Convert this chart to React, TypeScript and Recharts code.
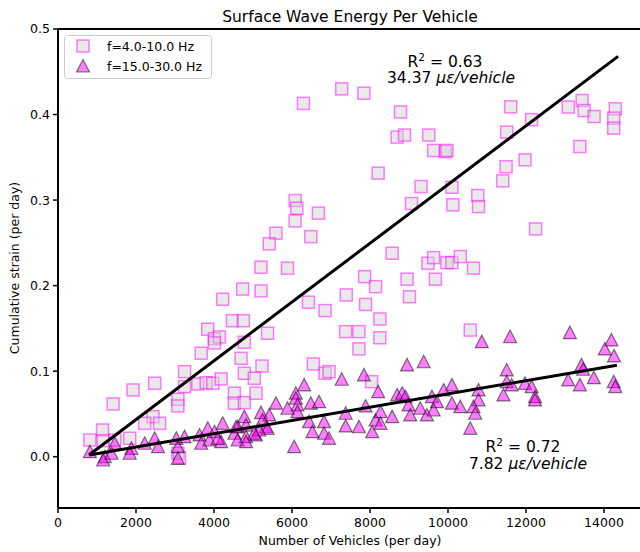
import React from 'react'
import {
  ScatterChart,
  Scatter,
  XAxis,
  YAxis,
  ReferenceLine,
  Customized,
} from 'recharts'

// Points: [vehicles per day, cumulative strain]
const lowBandPoints: [number, number][] = [
  [4734, 0.196], [4223, 0.184], [4471, 0.159], [4753, 0.159], [3840, 0.149], [4011, 0.138],
  [4139, 0.14], [4011, 0.133], [3672, 0.121], [4694, 0.115], [4778, 0.0975], [3245, 0.0994],
  [2478, 0.0858], [1924, 0.078], [3245, 0.0819], [3585, 0.085], [3799, 0.0865], [3968, 0.0858],
  [4183, 0.0909], [3074, 0.0671], [3074, 0.0593], [4522, 0.0742], [4522, 0.0625], [4778, 0.0632],
  [1413, 0.0616], [2435, 0.0468], [2223, 0.039], [2606, 0.039], [1142, 0.0312], [818, 0.0195],
  [1840, 0.0215], [1157, 0.0187], [1456, 0.0195], [3074, 0.004], [3117, -0.0015],
  [6293, 0.413], [7274, 0.43], [7844, 0.425], [8782, 0.403], [8695, 0.3736], [8884, 0.376],
  [9505, 0.376], [8209, 0.3315], [9308, 0.3158], [9063, 0.296], [6081, 0.2994], [6124, 0.2905],
  [6081, 0.2757], [6676, 0.2847], [5588, 0.2613], [5417, 0.2488], [6482, 0.2573], [5205, 0.2215],
  [5884, 0.2204], [8567, 0.2379], [9487, 0.2262], [7862, 0.2105], [8950, 0.2075],
  [5205, 0.1938], [6421, 0.1806], [6847, 0.1708], [7392, 0.1891], [8143, 0.1988], [9011, 0.187],
  [7887, 0.178], [8253, 0.161], [5373, 0.1443], [4778, 0.1338], [7376, 0.1462], [7716, 0.1462],
  [8253, 0.139], [7716, 0.126], [5230, 0.106], [5033, 0.0917], [6548, 0.1084], [6847, 0.0975],
  [6950, 0.0994], [8041, 0.0877], [5077, 0.0742],
  [9632, 0.358], [9931, 0.3567], [9973, 0.358], [11607, 0.409], [12144, 0.394], [11505, 0.3794],
  [13082, 0.4087], [13439, 0.4164], [13490, 0.4047], [13746, 0.3977], [14290, 0.4067],
  [14249, 0.3958], [14249, 0.3841], [13381, 0.3626], [11975, 0.347], [11490, 0.339],
  [11403, 0.3225], [10100, 0.315], [10125, 0.2944], [10764, 0.3053], [10782, 0.2924],
  [12246, 0.2663], [9632, 0.2327], [9973, 0.2269], [10100, 0.2269], [10315, 0.2339],
  [10654, 0.2204], [9676, 0.2075], [10570, 0.148],
]

const highBandPoints: [number, number][] = [
  [818, 0.0058], [1201, 0], [1157, -0.0039], [1372, 0.004], [1456, 0.0157], [1883, 0.0098],
  [1840, 0.004], [2223, 0.0157], [2478, 0.0215], [2563, 0.0117], [3033, 0.0215], [3074, 0.0117],
  [3074, -0.0019], [3245, 0.0234], [3628, 0.0254], [3672, 0.0157], [3840, 0.0332], [4011, 0.0292],
  [4223, 0.039], [4183, 0.0175], [4522, 0.0274], [4606, 0.0195], [4778, 0.0468], [4821, 0.0234],
  [3884, 0.0195], [4096, 0.0215], [4606, 0.035], [4821, 0.037], [5077, 0.0254], [5332, 0.035],
  [6055, 0.0117], [6439, 0.041], [6523, 0.0292],
  [6311, 0.0839], [6099, 0.0742], [6099, 0.0683], [6140, 0.0605], [6140, 0.0526], [5884, 0.0566],
  [5588, 0.0625], [6482, 0.0625], [6694, 0.0643], [5205, 0.0515], [5417, 0.0488], [5245, 0.0429],
  [4566, 0.035], [5373, 0.0332], [5161, 0.0312], [5033, 0.0274], [4821, 0.0175], [6822, 0.041],
  [6822, 0.0274], [6950, 0.0215], [7274, 0.0905], [7844, 0.0956], [8209, 0.076], [7376, 0.0508],
  [7376, 0.0359], [7887, 0.0593], [7716, 0.035], [8056, 0.0292], [8143, 0.0429], [8270, 0.0526],
  [8270, 0.039], [8567, 0.0468], [8695, 0.0722], [8823, 0.0742], [8909, 0.0702], [8950, 0.1073],
  [9377, 0.111], [8989, 0.0605], [9032, 0.0488], [9288, 0.0566], [9458, 0.0488],
  [10866, 0.1345], [11592, 0.1404], [13125, 0.145], [14188, 0.1365], [14019, 0.126],
  [14257, 0.1178], [13422, 0.1073], [13465, 0.1022], [11505, 0.1014], [11505, 0.0877],
  [11633, 0.0839], [11975, 0.0858], [12144, 0.0819], [13082, 0.0897], [13381, 0.0839],
  [13739, 0.0924], [14249, 0.0877], [14290, 0.0819], [11421, 0.0722], [12231, 0.0702],
  [12231, 0.0663], [10100, 0.0839], [9888, 0.078], [9589, 0.0702], [9717, 0.0643],
  [10100, 0.0625], [10315, 0.0585], [10782, 0.078], [10782, 0.0663], [10654, 0.0585],
  [10697, 0.0508], [9632, 0.0546], [10570, 0.0332],
]

// end points of the two fitted lines
const lowBandFit: [number, number][] = [[795, 0.002], [14360, 0.468]]
const highBandFit: [number, number][] = [[800, 0.002], [14330, 0.107]]

const xTicks = [0, 2000, 4000, 6000, 8000, 10000, 12000, 14000]
const yTicks = [0, 0.1, 0.2, 0.3, 0.4, 0.5]

const FONT = 'DejaVu Sans'

const toRows = (pts: [number, number][]) => pts.map(([x, y]) => ({ x, y }))

function SquareMarker(props: any) {
  const { cx, cy } = props
  if (cx == null || cy == null) return <g />
  return (
    <rect
      x={cx - 6}
      y={cy - 6}
      width={12}
      height={12}
      fill="#d3d3d3"
      fillOpacity={0.5}
      stroke="#ff00ff"
      strokeOpacity={0.5}
      strokeWidth={1.5}
    />
  )
}

function TriangleMarker(props: any) {
  const { cx, cy } = props
  if (cx == null || cy == null) return <g />
  return (
    <path
      d={`M${cx},${cy - 6.5}L${cx - 6.5},${cy + 6}L${cx + 6.5},${cy + 6}Z`}
      fill="#ff00ff"
      fillOpacity={0.5}
      stroke="#000"
      strokeOpacity={0.5}
      strokeWidth={1.2}
    />
  )
}

// Title, axis labels, fit annotations and legend, placed in page pixels
function Overlay() {
  return (
    <g fontFamily={FONT} fill="#000">
      <text x={350} y={22} fontSize={15.5} textAnchor="middle">
        Surface Wave Energy Per Vehicle
      </text>
      <text x={350} y={545} fontSize={12.5} textAnchor="middle">
        Number of Vehicles (per day)
      </text>
      <text x={19} y={268} fontSize={12.5} textAnchor="middle" transform="rotate(-90, 19, 268)">
        Cumulative strain (per day)
      </text>

      <text x={445} y={67} fontSize={15.5} textAnchor="middle">
        R<tspan dy={-6} fontSize={10.5}>2</tspan>
        <tspan dy={6}> = 0.63</tspan>
      </text>
      <text x={451} y={83} fontSize={15.5} textAnchor="middle">
        34.37 <tspan fontStyle="italic">με/vehicle</tspan>
      </text>
      <text x={523} y={452} fontSize={15.5} textAnchor="middle">
        R<tspan dy={-6} fontSize={10.5}>2</tspan>
        <tspan dy={6}> = 0.72</tspan>
      </text>
      <text x={528} y={469} fontSize={15.5} textAnchor="middle">
        7.82 <tspan fontStyle="italic">με/vehicle</tspan>
      </text>

      <rect x={64.5} y={35.5} width={147} height={43} rx={3} fill="#fff" fillOpacity={0.8} stroke="#cccccc" />
      <SquareMarker cx={83} cy={46} />
      <TriangleMarker cx={83} cy={66} />
      <text x={107} y={50.5} fontSize={12.5}>f=4.0-10.0 Hz</text>
      <text x={107} y={70.5} fontSize={12.5}>f=15.0-30.0 Hz</text>
    </g>
  )
}

export default function App() {
  const tickStyle = { fontFamily: FONT, fontSize: 12.5, fill: '#000' }
  return (
    <div style={{ position: 'absolute', left: 0, top: 0, width: 640, height: 552, overflow: 'hidden', background: '#fff' }}>
      <ScatterChart width={643} height={552} margin={{ top: 29, right: 0, bottom: 0, left: 0 }}>
        <XAxis
          type="number"
          dataKey="x"
          domain={[0, 15000]}
          ticks={xTicks}
          allowDataOverflow
          height={44}
          tick={tickStyle}
          tickSize={5}
          tickMargin={5}
          stroke="#000"
          axisLine={{ stroke: '#000', strokeWidth: 2 }}
          tickLine={{ stroke: '#000', strokeWidth: 1.5 }}
        />
        <YAxis
          type="number"
          dataKey="y"
          domain={[-0.06, 0.5]}
          ticks={yTicks}
          allowDataOverflow
          width={58}
          tick={tickStyle}
          tickFormatter={(v: number) => v.toFixed(1)}
          tickSize={5}
          tickMargin={3}
          stroke="#000"
          axisLine={{ stroke: '#000', strokeWidth: 2 }}
          tickLine={{ stroke: '#000', strokeWidth: 1.5 }}
        />
        <ReferenceLine y={0.5} stroke="#000" strokeWidth={2} ifOverflow="visible" />
        <Scatter data={toRows(lowBandPoints)} shape={SquareMarker} isAnimationActive={false} />
        <Scatter data={toRows(highBandPoints)} shape={TriangleMarker} isAnimationActive={false} />
        <Scatter
          data={toRows(lowBandFit)}
          line={{ stroke: '#000', strokeWidth: 3 }}
          shape={() => <g />}
          isAnimationActive={false}
        />
        <Scatter
          data={toRows(highBandFit)}
          line={{ stroke: '#000', strokeWidth: 3 }}
          shape={() => <g />}
          isAnimationActive={false}
        />
        <Customized component={Overlay} />
      </ScatterChart>
    </div>
  )
}
